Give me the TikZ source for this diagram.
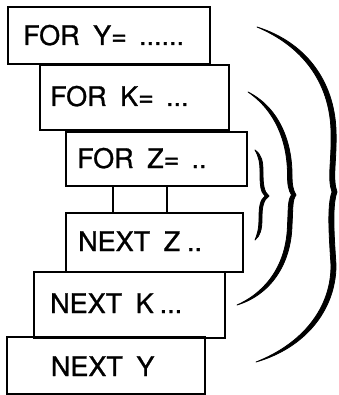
\documentclass[tikz,border=0pt]{standalone}
\usepackage{fontspec}
\setmainfont[FakeBold=1]{TeX Gyre Heros}

\begin{document}
\begin{tikzpicture}[x=1pt,y=-1pt,
	loopbox/.style={draw, line width=1.9pt, anchor=north west, inner sep=0pt},
	looptext/.style={anchor=base west, inner sep=0pt, font=\fontsize{27}{30}\selectfont},
	bracestroke/.style={line width=.8pt, line join=round, line cap=round}]
	\useasboundingbox (0,0) rectangle (338,395);
	% the six boxes, top to bottom
	\node[loopbox, minimum width=202, minimum height=57] (fory) at (7,6) {};
	\node[loopbox, minimum width=189, minimum height=65] (fork) at (39,64) {};
	\node[loopbox, minimum width=181, minimum height=54] (forz) at (65,131) {};
	\node[loopbox, minimum width=177, minimum height=59] (nextz) at (65,212) {};
	\node[loopbox, minimum width=191, minimum height=66] (nextk) at (33,271) {};
	\node[loopbox, minimum width=198, minimum height=57] (nexty) at (6,336) {};
	% texts
	\node[looptext] (tfory) at (23,45) {FOR\hspace{.5em}Y=\hspace{.45em}......};
	\node[looptext] (tfork) at (50,106) {FOR\hspace{.5em}K=\hspace{.45em}...};
	\node[looptext] (tforz) at (77,168) {FOR\hspace{.5em}Z=\hspace{.45em}..};
	\node[looptext] (tnextz) at (78,251) {NEXT\hspace{.5em}Z\hspace{.25em}..};
	\node[looptext] (tnextk) at (50,313) {NEXT\hspace{.5em}K\hspace{.22em}...};
	\node[looptext] (tnexty) at (50.7,376) {NEXT\hspace{.5em}Y};
	% the two posts between FOR Z and NEXT Z
	\foreach \dx in {48,102} {
		\draw[line width=1.9pt] ([xshift=\dx]forz.south west) -- ([xshift=\dx]nextz.north west);
	}
	% braces, outer to inner
	\filldraw[bracestroke] (257,27) .. controls (305,42) and (334,80) .. (336,130)
		.. controls (337,160) and (332,178) .. (337,192)
		.. controls (332,205) and (334,235) .. (336,265)
		.. controls (336,310) and (305,348) .. (256,362)
		.. controls (302.3,343.8) and (331.3,308.3) .. (331,265)
		.. controls (329,235) and (327,205) .. (332,192)
		.. controls (327,178) and (332,160) .. (331,130)
		.. controls (329.3,81.7) and (302.2,46.1) .. (257,27) -- cycle;
	\filldraw[bracestroke] (248,92) .. controls (278,107) and (292,140) .. (292,175)
		.. controls (292,185) and (293,190) .. (296,195)
		.. controls (292,200) and (293,210) .. (292,225)
		.. controls (291,265) and (270,295) .. (237,305)
		.. controls (267.3,291.4) and (286.7,263.6) .. (287.5,225)
		.. controls (288.5,210) and (287.5,200) .. (291.5,195)
		.. controls (288.5,190) and (287.5,185) .. (287.5,175)
		.. controls (287.6,140.9) and (274.7,110) .. (248,92) -- cycle;
	\filldraw[bracestroke] (255,150) .. controls (262,155) and (263,162) .. (263,172)
		.. controls (263,185) and (264,192) .. (269,196)
		.. controls (263,200) and (262,208) .. (262,218)
		.. controls (262,230) and (260,236) .. (255,240)
		.. controls (257,235) and (259,230) .. (259,218)
		.. controls (259,207) and (260,200) .. (265,196)
		.. controls (260.5,192) and (260,185) .. (260,172)
		.. controls (260,163) and (259,157) .. (255,150) -- cycle;
\end{tikzpicture}
\end{document}
